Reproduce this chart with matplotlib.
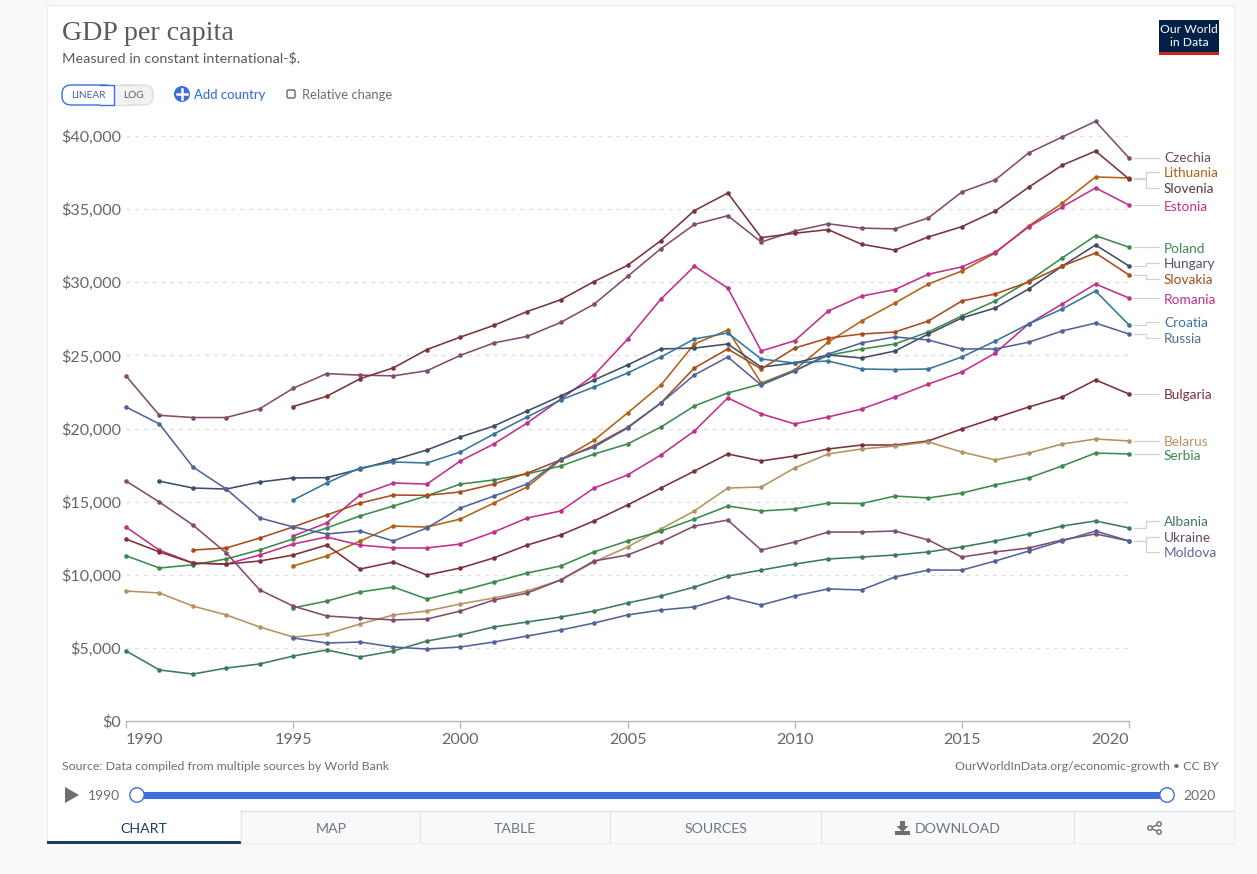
import matplotlib
matplotlib.use("Agg")
import matplotlib.pyplot as plt
from matplotlib.patches import Rectangle, Circle, Polygon, FancyBboxPatch
from matplotlib.ticker import FuncFormatter

W, H = 1257, 874
plt.rcParams['font.family'] = ['Lato', 'DejaVu Sans']

years = list(range(1990, 2021))
y1991 = years[1:]
y1992 = years[2:]
y1995 = years[5:]

czechia = [23600, 20900, 20750, 20750, 21350, 22750, 23750, 23650, 23600, 23950, 25000, 25850, 26300, 27250, 28500, 30400,
           32300, 33950, 34550, 32750, 33500, 34000, 33700, 33650, 34400, 36170, 37000, 38840, 39930, 41000, 38500]
slovenia = [21500, 22200, 23400, 24150, 25400, 26250, 27050, 28000, 28800, 30050, 31150, 32850, 34900, 36100, 33050,
            33350, 33600, 32600, 32200, 33100, 33800, 34870, 36500, 38000, 38970, 37060]
lithuania = [10600, 11280, 12300, 13330, 13260, 13810, 14900, 16000, 17850, 19200, 21060, 22970, 25780, 26730, 23100,
             24000, 25900, 27350, 28580, 29880, 30770, 32000, 33850, 35400, 37200, 37130]
estonia = [12650, 13540, 15450, 16270, 16200, 17780, 18940, 20380, 22000, 23650, 26100, 28850, 31100, 29600, 25300,
           26000, 28030, 29050, 29500, 30550, 31050, 32050, 33780, 35150, 36450, 35280]
poland = [11300, 10460, 10680, 11080, 11700, 12450, 13200, 14020, 14700, 15400, 16200, 16480, 16900, 17430, 18250, 18940,
          20100, 21540, 22430, 23040, 23950, 25000, 25430, 25780, 26600, 27700, 28720, 30080, 31660, 33180, 32400]
hungary = [16400, 15930, 15860, 16340, 16620, 16640, 17230, 17850, 18530, 19420, 20170, 21200, 22220, 23320, 24340,
           25440, 25500, 25780, 24200, 24480, 25030, 24820, 25300, 26460, 27560, 28240, 29540, 31100, 32550, 31110]
slovakia = [11690, 11830, 12510, 13270, 14080, 14900, 15450, 15430, 15660, 16200, 16950, 17850, 18830, 20080, 21750,
            24140, 25440, 24070, 25500, 26180, 26460, 26600, 27350, 28720, 29200, 30020, 31100, 32000, 30500]
romania = [13260, 11680, 10800, 10730, 11350, 12100, 12580, 12030, 11830, 11830, 12100, 12920, 13880, 14360, 15930, 16820,
           18190, 19830, 22090, 21000, 20310, 20790, 21330, 22150, 23040, 23860, 25160, 27150, 28510, 29880, 28920]
croatia = [15110, 16270, 17300, 17710, 17640, 18390, 19620, 20790, 21950, 22840, 23790, 24890, 26120, 26530, 24750,
           24480, 24620, 24070, 24030, 24070, 24890, 25980, 27150, 28170, 29400, 27080]
russia = [21470, 20310, 17370, 15860, 13880, 13270, 12790, 12990, 12310, 13200, 14560, 15380, 16200, 17910, 18730, 20030,
          21740, 23660, 24890, 22970, 23930, 25090, 25850, 26260, 26050, 25440, 25440, 25900, 26670, 27210, 26460]
bulgaria = [12440, 11560, 10800, 10730, 10940, 11350, 12030, 10390, 10870, 9980, 10460, 11150, 12030, 12720, 13680, 14770,
            15930, 17090, 18260, 17780, 18120, 18600, 18870, 18870, 19150, 19970, 20720, 21470, 22150, 23320, 22360]
belarus = [8890, 8750, 7860, 7250, 6430, 5740, 5950, 6630, 7250, 7520, 8000, 8410, 8890, 9640, 10870, 11900,
           13130, 14360, 15930, 16000, 17300, 18260, 18600, 18800, 19080, 18390, 17850, 18320, 18940, 19280, 19150]
serbia = [7730, 8200, 8820, 9160, 8340, 8890, 9500, 10120, 10600, 11560, 12310, 12990, 13810, 14700, 14360,
          14500, 14900, 14870, 15380, 15250, 15590, 16140, 16620, 17440, 18320, 18260]
albania = [4790, 3490, 3210, 3620, 3900, 4440, 4860, 4380, 4790, 5470, 5880, 6430, 6770, 7110, 7520, 8070,
           8550, 9160, 9910, 10320, 10730, 11080, 11210, 11350, 11560, 11900, 12310, 12790, 13330, 13680, 13200]
ukraine = [16410, 14970, 13400, 11490, 8960, 7860, 7180, 7040, 6910, 6970, 7520, 8270, 8750, 9640, 10940, 11350,
           12240, 13330, 13740, 11690, 12240, 12920, 12920, 12990, 12380, 11210, 11560, 11830, 12380, 12790, 12310]
moldova = [5680, 5330, 5400, 5060, 4920, 5060, 5400, 5810, 6220, 6700, 7250, 7590, 7800, 8480, 7930,
           8550, 9030, 8960, 9850, 10320, 10320, 10940, 11620, 12310, 12990, 12310]

# name, x values, y values, colour, label row in pixels
series = [
    ('Czechia', years, czechia, '#834c6e', 158),
    ('Lithuania', y1995, lithuania, '#b16214', 173),
    ('Slovenia', y1995, slovenia, '#7a3538', 189),
    ('Estonia', y1995, estonia, '#c0308c', 207),
    ('Poland', years, poland, '#3c8a4c', 249),
    ('Hungary', y1991, hungary, '#3f4d66', 264),
    ('Slovakia', y1992, slovakia, '#a84c1c', 280),
    ('Romania', years, romania, '#c0308c', 300),
    ('Croatia', y1995, croatia, '#38759c', 323),
    ('Russia', years, russia, '#51639a', 339),
    ('Bulgaria', years, bulgaria, '#7d3038', 395),
    ('Belarus', years, belarus, '#b59260', 442),
    ('Serbia', y1995, serbia, '#3c8a4c', 456),
    ('Albania', years, albania, '#3c7a5c', 522),
    ('Ukraine', years, ukraine, '#834c6e', 538),
    ('Moldova', y1995, moldova, '#51639a', 553),
]
label_text_colors = {'Czechia': '#6b4a63', 'Slovenia': '#5a3a3a', 'Hungary': '#4a5568', 'Russia': '#5a6a94',
                     'Ukraine': '#6b4a63', 'Moldova': '#5a6a94', 'Albania': '#3c7a5c'}

fig = plt.figure(figsize=(W / 100, H / 100), dpi=100, facecolor='#f9f9f9')

# overlay in pixel coordinates, for the page furniture round the chart
page = fig.add_axes([0, 0, 1, 1], zorder=1)
page.set_xlim(0, W)
page.set_ylim(H, 0)
page.axis('off')

page.add_patch(Rectangle((48, 7), 1186, 837, fc='#c4c4c4', ec='none', alpha=0.7))
page.add_patch(Rectangle((47, 5), 1187, 838, fc='white', ec='#ececec', lw=0.8))

page.text(62, 34, 'GDP per capita', family='Liberation Serif', fontsize=20.2, color='#5b5b5b', va='center')
page.text(62, 58, 'Measured in constant international-$.', fontsize=10.35, color='#5b5b5b', va='center')

# logo
page.add_patch(Rectangle((1159, 20), 60, 35, fc='#002147', ec='none'))
page.add_patch(Rectangle((1159, 52), 60, 3, fc='#ce261e', ec='none'))
page.text(1189, 29.5, 'Our World', color='white', fontsize=8.7, ha='center', va='center')
page.text(1189, 43, 'in Data', color='white', fontsize=8.7, ha='center', va='center')

# linear / log toggle
page.add_patch(FancyBboxPatch((114, 85), 39, 20, boxstyle='round,pad=0,rounding_size=9', fc='#f2f2f2', ec='#dcdcdc', lw=1))
page.add_patch(Rectangle((114, 85), 14, 20, fc='#f2f2f2', ec='none'))
page.plot([114, 130], [85, 85], color='#dcdcdc', lw=1)
page.plot([114, 130], [105, 105], color='#dcdcdc', lw=1)
page.add_patch(FancyBboxPatch((62, 85), 52, 20, boxstyle='round,pad=0,rounding_size=9', fc='white', ec='#3d6fdc', lw=1))
page.add_patch(Rectangle((100, 85.5), 14, 19, fc='white', ec='none'))
page.plot([100, 114, 114, 100], [85, 85, 105, 105], color='#3d6fdc', lw=1)
page.text(88, 96, 'LINEAR', fontsize=7.3, color='#4a5fa8', ha='center', va='center')
page.text(134, 96, 'LOG', fontsize=7.3, color='#5b5b5b', ha='center', va='center')

page.add_patch(Circle((182, 94), 8, fc='#3d6fdc', ec='none'))
page.plot([177, 187], [94, 94], color='white', lw=1.8)
page.plot([182, 182], [89, 99], color='white', lw=1.8)
page.text(194, 95, 'Add country', fontsize=9.4, color='#3d6fdc', va='center', weight='medium')
page.add_patch(FancyBboxPatch((287, 90), 8, 8, boxstyle='round,pad=0,rounding_size=1.5', fc='white', ec='#666666', lw=1))
page.text(302, 95, 'Relative change', fontsize=9.35, color='#6e6e6e', va='center')

# source line
page.text(62, 767, 'Source: Data compiled from multiple sources by World Bank', fontsize=8.95, color='#6e6e6e', va='center')
page.text(1219, 767, 'OurWorldInData.org/economic-growth • CC BY', fontsize=8.95, color='#6e6e6e', va='center', ha='right')

# timeline
page.add_patch(Polygon([(65, 787), (65, 803), (79, 795)], fc='#6e6e6e', ec='none'))
page.text(88, 796, '1990', fontsize=10, color='#6e6e6e', va='center')
page.text(1183, 796, '2020', fontsize=10, color='#6e6e6e', va='center')
page.add_patch(Rectangle((137, 792), 1030, 6.5, fc='#3d6fdc', ec='none'))
page.add_patch(Circle((137, 795), 7.2, fc='white', ec='#3d6fdc', lw=1, zorder=3))
page.add_patch(Circle((1167, 795), 7.2, fc='white', ec='#3d6fdc', lw=1, zorder=3))

# tab row
page.add_patch(Rectangle((241, 811), 993, 32, fc='#f8f9fb', ec='none'))
page.plot([241, 1234], [811, 811], color='#e3e5e8', lw=1)
for x in [241, 420, 610, 821, 1074]:
    page.plot([x, x], [811, 842], color='#e3e5e8', lw=1)
page.add_patch(Rectangle((47, 841), 194, 2.5, fc='#1d3d63', ec='none'))
page.text(144, 829, 'CHART', fontsize=10.2, color='#1d3d63', ha='center', va='center')
page.text(331, 829, 'MAP', fontsize=10.2, color='#6e7581', ha='center', va='center')
page.text(515, 829, 'TABLE', fontsize=10.2, color='#6e7581', ha='center', va='center')
page.text(716, 829, 'SOURCES', fontsize=10.2, color='#6e7581', ha='center', va='center')
page.text(915, 829, 'DOWNLOAD', fontsize=10.2, color='#6e7581', ha='left', va='center')

# download icon
page.add_patch(Polygon([(900, 821), (905, 821), (905, 826), (908.5, 826), (902.5, 832), (896.5, 826), (900, 826)],
                       fc='#6e6e6e', ec='none'))
page.add_patch(Rectangle((895, 831), 15, 4, fc='#6e6e6e', ec='none'))

# share icon
page.plot([1159, 1150, 1159], [824, 828, 832], color='#6e6e6e', lw=1)
for cx, cy in [(1159, 824), (1150, 828), (1159, 832)]:
    page.add_patch(Circle((cx, cy), 2.2, fc='white', ec='#6e6e6e', lw=1, zorder=3))

# main chart, placed so the plot area lands on the reference's pixel box
left, right, top, bottom = 126, 1129, 136, 721
ax = fig.add_axes([left / W, 1 - bottom / H, (right - left) / W, (bottom - top) / H], zorder=2)
ax.patch.set_alpha(0)
ax.set_xlim(1990, 2020)
ax.set_ylim(0, 40000)
for side in ['top', 'left', 'right']:
    ax.spines[side].set_visible(False)
ax.spines['bottom'].set_color('#b8b8b8')
ax.spines['bottom'].set_linewidth(1)

ax.set_yticks(range(0, 40001, 5000))
ax.yaxis.set_major_formatter(FuncFormatter(lambda v, p: f'${int(v):,}'))
ax.tick_params(axis='y', length=0, pad=3.5, labelsize=11.6, labelcolor='#666666')
ax.set_xticks(range(1990, 2021, 5))
ax.tick_params(axis='x', length=5, width=1, color='#b8b8b8', pad=4, labelsize=11.6, labelcolor='#666666')
labels = ax.get_xticklabels()
labels[0].set_ha('left')
labels[-1].set_ha('right')
for y in range(5000, 40001, 5000):
    ax.axhline(y, color='#dddddd', lw=0.9, ls=(0, (3, 4)), zorder=1)

for name, xs, ys, color, label_y in series:
    ax.plot(xs, ys, color=color, lw=1.15, marker='o', ms=3.3, mew=0, clip_on=False, zorder=3)

# end labels and their little elbow connectors, drawn in pixels
def value_to_px(v):
    return bottom - v / 40000 * (bottom - top)

for name, xs, ys, color, label_y in series:
    end_y = value_to_px(ys[-1])
    line_y = label_y - 1
    if abs(end_y - line_y) < 1.5:
        page.plot([1134, 1159], [end_y, end_y], color='#d2d2d2', lw=0.9, zorder=1)
    else:
        page.plot([1134, 1146, 1146, 1159], [end_y, end_y, line_y, line_y], color='#d2d2d2', lw=0.9, zorder=1)
    page.text(1164, label_y, name, fontsize=9.8, color=label_text_colors.get(name, color), va='center')

fig.savefig('out.png', dpi=100, facecolor=fig.get_facecolor())
